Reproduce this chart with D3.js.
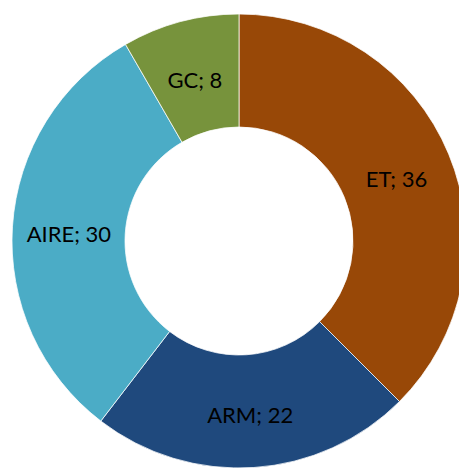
<!DOCTYPE html>
<html>
<head>
<meta charset="utf-8">
<script src="https://cdn.jsdelivr.net/npm/d3@7"></script>
<style>
  body { margin: 0; background: #fff; }
  svg { display: block; }
</style>
</head>
<body>
<div id="chart"></div>
<script>
var svgWidth = 459;
var svgHeight = 468;

// chart data
var categories = ["ET", "ARM", "AIRE", "GC"];
var values = [36, 22, 30, 8];
var colors = ["#984807", "#1F497D", "#4BACC6", "#77933C"];

var cx = 239;
var cy = 241;
var outerR = 227;
var innerR = 114;

var svg = d3.select("#chart")
  .append("svg")
  .attr("width", svgWidth)
  .attr("height", svgHeight);

var chartGroup = svg.append("g")
  .attr("transform", `translate(${cx}, ${cy})`);

var data = categories.map((c, i) => ({ name: c, value: values[i], color: colors[i] }));

var pie = d3.pie()
  .value(d => d.value)
  .sort(null);

var arc = d3.arc()
  .innerRadius(innerR)
  .outerRadius(outerR);

var arcs = pie(data);

chartGroup.selectAll("path")
  .data(arcs)
  .enter()
  .append("path")
  .attr("d", arc)
  .attr("fill", d => d.data.color)
  .attr("stroke", "#fff")
  .attr("stroke-width", 0.75);

// labels at slice centroids
chartGroup.selectAll("text")
  .data(arcs)
  .enter()
  .append("text")
  .attr("x", d => arc.centroid(d)[0])
  .attr("y", d => arc.centroid(d)[1] + 4)
  .attr("dy", "0.35em")
  .attr("text-anchor", "middle")
  .style("font-family", "Lato, 'Open Sans', sans-serif")
  .style("font-size", "22px")
  .style("fill", "#000")
  .text(d => `${d.data.name}; ${d.data.value}`);
</script>
</body>
</html>
